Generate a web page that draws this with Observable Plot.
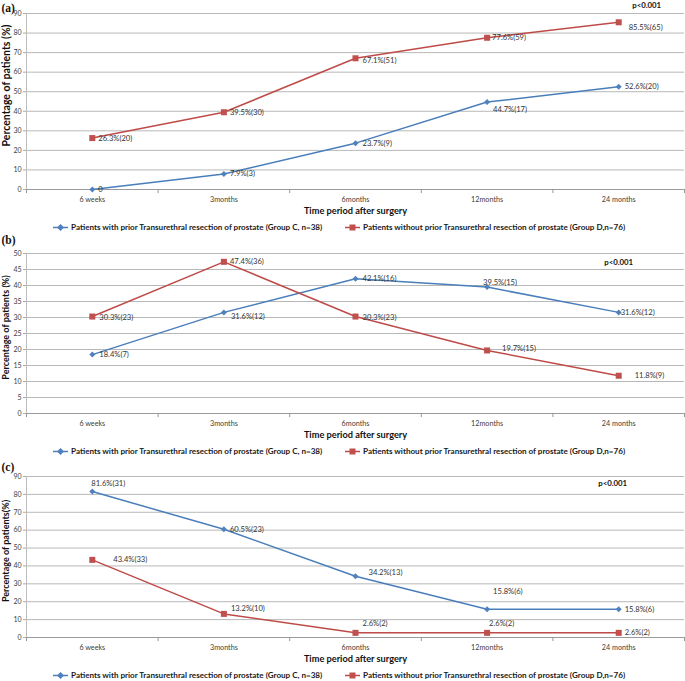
<!DOCTYPE html>
<html><head><meta charset="utf-8">
<script src="https://cdn.jsdelivr.net/npm/d3@7"></script>
<script src="https://cdn.jsdelivr.net/npm/@observablehq/plot@0.6"></script>
<style>
body{margin:0;background:#fff;width:685px;overflow:hidden;}
.legend{position:relative;height:12px;font-family:Lato,"Open Sans",sans-serif;font-weight:bold;font-size:8.1px;color:#1a1a1a;}
.item{position:absolute;top:0;height:12px;display:flex;align-items:center;white-space:nowrap;}
.item svg{margin-right:2px;display:block;}
svg.plot{display:block;}
</style></head><body><div id="chart"></div>
<script>
// ---------- data ----------
const timePoints = ["6 weeks", "3months", "6months", "12months", "24 months"];
const seriesC = "Patients with prior Transurethral resection of prostate (Group C, n=38)";
const seriesD = "Patients without prior Transurethral resection of prostate (Group D,n=76)";
const xTitle = "Time period after surgery";
const pText = "p<0.001";

const aGroupC = [0, 7.9, 23.7, 44.7, 52.6];
const aGroupD = [26.3, 39.5, 67.1, 77.6, 85.5];
const aLabelsC = ["0", "7.9%(3)", "23.7%(9)", "44.7%(17)", "52.6%(20)"];
const aLabelsD = ["26.3%(20)", "39.5%(30)", "67.1%(51)", "77.6%(59)", "85.5%(65)"];

const bGroupC = [18.4, 31.6, 42.1, 39.5, 31.6];
const bGroupD = [30.3, 47.4, 30.3, 19.7, 11.8];
const bLabelsC = ["18.4%(7)", "31.6%(12)", "42.1%(16)", "39.5%(15)", "31.6%(12)"];
const bLabelsD = ["30.3%(23)", "47.4%(36)", "30.3%(23)", "19.7%(15)", "11.8%(9)"];

const cGroupC = [81.6, 60.5, 34.2, 15.8, 15.8];
const cGroupD = [43.4, 13.2, 2.6, 2.6, 2.6];
const cLabelsC = ["81.6%(31)", "60.5%(23)", "34.2%(13)", "15.8%(6)", "15.8%(6)"];
const cLabelsD = ["43.4%(33)", "13.2%(10)", "2.6%(2)", "2.6%(2)", "2.6%(2)"];

// ---------- styling / layout ----------
const BLUE = "#4A7EBB", BLUE_M = "#4F81BD", RED = "#BE4B48", RED_M = "#C0504D";
const FONT = "Lato, 'Open Sans', sans-serif";

const panels = [
  {tag: "(a)", yMax: 90, yStep: 10, yLabel: "Percentage of patients (%)", yLabelSize: 10.5, yLabelDy: -16,
   c: aGroupC, d: aGroupD, lc: aLabelsC, ld: aLabelsD,
   oc: [[6,0],[6,0],[7,0],[6,7],[6,0]], od: [[6,0],[6,0],[7,2],[5,0],[10,5]],
   marginTop: 13, height: 221, tagDy: -5, pY: 94.1, pDx: 28},
  {tag: "(b)", yMax: 50, yStep: 5, yLabel: "Percentage of patients (%)", yLabelSize: 9, yLabelDy: -6,
   c: bGroupC, d: bGroupD, lc: bLabelsC, ld: bLabelsD,
   oc: [[7,0],[7,4],[7,0],[-4,-5],[2,0]], od: [[7,1],[6,0],[7,1],[15,-2],[16,0]],
   marginTop: 20, height: 212, tagDy: -13, pY: 47.2, pDx: 0},
  {tag: "(c)", yMax: 90, yStep: 10, yLabel: "Percentage of patients(%)", yLabelSize: 9, yLabelDy: -6,
   c: cGroupC, d: cGroupD, lc: cLabelsC, ld: cLabelsD,
   oc: [[-1,-8],[6,0],[13,-4],[6,-18],[6,0]], od: [[21,0],[7,-5],[7,-9],[2,-9],[6,0]],
   marginTop: 19, height: 212, tagDy: -9, pY: 86.1, pDx: -6}
];

function build(p) {
  const rowsC = timePoints.map((t, i) => ({t, x: i + 0.5, y: p.c[i], label: p.lc[i], off: p.oc[i]}));
  const rowsD = timePoints.map((t, i) => ({t, x: i + 0.5, y: p.d[i], label: p.ld[i], off: p.od[i]}));
  const yTicks = d3.range(0, p.yMax + 0.001, p.yStep);
  const labelMarks = [...rowsC, ...rowsD].map(r =>
    Plot.text([r], {x: "x", y: "y", text: "label", dx: r.off[0], dy: r.off[1],
      textAnchor: "start", lineAnchor: "middle", fontSize: 7.6, fill: "#333"}));
  const plot = Plot.plot({
    width: 685, height: p.height,
    marginLeft: 26, marginRight: 1, marginTop: p.marginTop, marginBottom: 32,
    style: {fontFamily: FONT, background: "#fff"},
    x: {domain: [0, 5]},
    y: {domain: [0, p.yMax]},
    marks: [
      Plot.gridY(yTicks, {stroke: "#b8b8b8", strokeOpacity: 1}),
      Plot.ruleX([0], {stroke: "#bdbdbd"}),
      Plot.ruleY([0], {stroke: "#9a9a9a"}),
      Plot.axisY({ticks: yTicks, tickSize: 3, tickPadding: 2, fontSize: 7, stroke: "#aaa", fill: "#404040", label: null}),
      Plot.axisX({ticks: [0, 1, 2, 3, 4, 5], tickSize: 4, tickFormat: () => "", stroke: "#999", label: null}),
      Plot.axisX({ticks: timePoints.map((t, i) => i + 0.5), tickFormat: d => timePoints[Math.round(d - 0.5)],
        tickSize: 0, tickPadding: 7, fontSize: 7.2, fill: "#404040", label: null}),
      Plot.line(rowsC, {x: "x", y: "y", stroke: BLUE, strokeWidth: 1.5}),
      Plot.line(rowsD, {x: "x", y: "y", stroke: RED, strokeWidth: 1.5}),
      Plot.dot(rowsC, {x: "x", y: "y", symbol: "diamond2", r: 2.7, fill: BLUE_M, stroke: "none"}),
      Plot.dot(rowsD, {x: "x", y: "y", symbol: "square", r: 3.4, fill: RED_M, stroke: "none"}),
      ...labelMarks,
      Plot.text([pText], {x: 4.5, y: p.pY, dx: p.pDx, text: d => d, fontSize: 7.8, fontWeight: "bold", fill: "#111"}),
      Plot.text([xTitle], {frameAnchor: "bottom", dy: 24, text: d => d, fontSize: 9.2, fontWeight: "bold", fill: "#111"}),
      Plot.text([p.yLabel], {frameAnchor: "left", dx: -20, dy: p.yLabelDy, rotate: -90, text: d => d,
        fontSize: p.yLabelSize, fontWeight: "bold", fill: "#111", textAnchor: "middle", lineAnchor: "middle"}),
      Plot.text([p.tag], {frameAnchor: "top-left", dx: -25, dy: p.tagDy, text: d => d, textAnchor: "start",
        lineAnchor: "middle", fontSize: 11.5, fontWeight: "bold", fontFamily: "'Liberation Serif', serif", fill: "#111"})
    ]
  });
  return plot;
}

function legend() {
  const div = document.createElement("div");
  div.className = "legend";
  const items = [
    {name: seriesC, left: 53, color: BLUE, mfill: BLUE_M, marker: "diamond"},
    {name: seriesD, left: 345, color: RED, mfill: RED_M, marker: "square"}
  ];
  for (const it of items) {
    const el = document.createElement("div");
    el.className = "item";
    el.style.left = it.left + "px";
    const m = it.marker === "diamond"
      ? `<path d="M7.5,1 L11,4.5 L7.5,8 L4,4.5Z" fill="${it.mfill}"/>`
      : `<rect x="4.5" y="1.5" width="6" height="6" fill="${it.mfill}"/>`;
    el.innerHTML = `<svg width="16" height="9"><line x1="0" x2="15" y1="4.5" y2="4.5" stroke="${it.color}" stroke-width="1.5"/>${m}</svg><span>${it.name}</span>`;
    div.appendChild(el);
  }
  return div;
}

const root = document.getElementById("chart");
for (const p of panels) {
  root.appendChild(build(p));
  root.appendChild(legend());
}
</script></body></html>
